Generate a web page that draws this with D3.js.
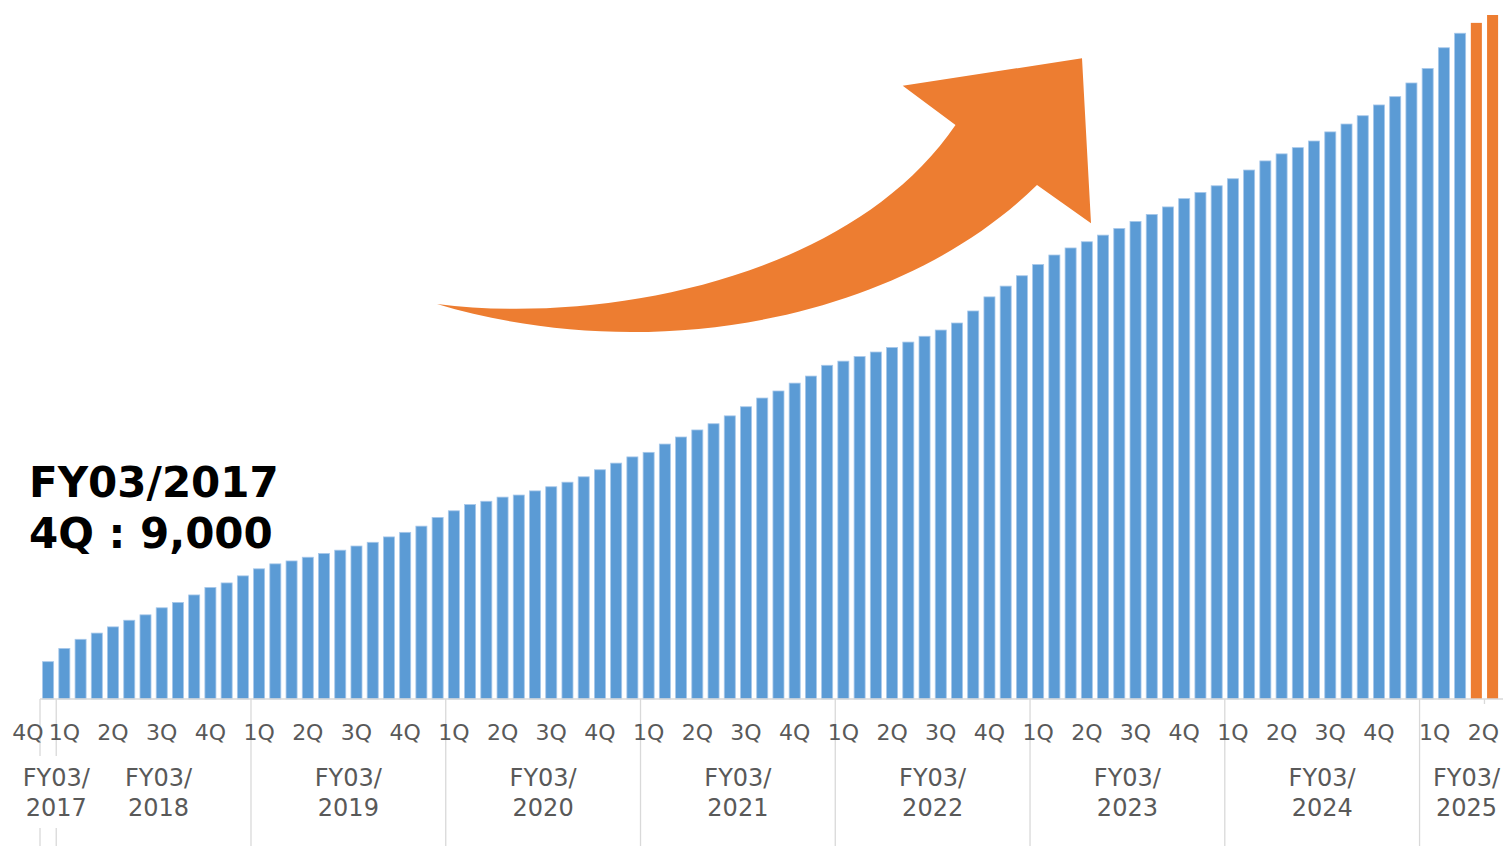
<!DOCTYPE html>
<html>
<head>
<meta charset="utf-8">
<script src="https://d3js.org/d3.v7.min.js"></script>
<style>
  body { margin: 0; background: #fff; }
  text { font-family: "DejaVu Sans", Verdana, sans-serif; }
  .qlabel { font-size: 22px; fill: #595959; }
  .ylabel { font-size: 24px; fill: #595959; }
  .note { font-size: 42px; font-weight: bold; fill: #000; }
</style>
</head>
<body>
<div id="chart"></div>
<script>
// monthly values, FY03/2017 4Q (Mar 2017) to FY03/2025 2Q
const values = [
  9000, 12200, 14400, 15900, 17400, 19000, 20300, 22000, 23300, 25100,
  26900, 28000, 29700, 31400, 32600, 33300, 34200, 35100, 35900, 36900,
  37800, 39100, 40200, 41700, 43800, 45400, 46900, 47700, 48700, 49200,
  50200, 51200, 52300, 53600, 55300, 56900, 58400, 59500, 61500, 63200,
  64900, 66400, 68300, 70500, 72600, 74300, 76200, 77900, 80500, 81500,
  82600, 83700, 84800, 86100, 87500, 89000, 90700, 93600, 97000, 99600,
  102100, 104800, 107100, 108800, 110300, 111900, 113500, 115200, 116900, 118700,
  120700, 122200, 123800, 125500, 127600, 129800, 131500, 133000, 134600, 136800,
  138700, 140700, 143300, 145300, 148600, 152100, 157100, 160600, 163100, 165000
];
// last months drawn in orange
const highlightFrom = 88;

// fiscal years and how many months of each are shown
const fyLabels = ["2017", "2018", "2019", "2020", "2021", "2022", "2023", "2024", "2025"];
const fyMonths = [1, 12, 12, 12, 12, 12, 12, 12, 5];

// quarter labels under the bars (first one is FY03/2017 4Q)
const quarterLabels = ["4Q",
  "1Q", "2Q", "3Q", "4Q", "1Q", "2Q", "3Q", "4Q", "1Q", "2Q", "3Q", "4Q",
  "1Q", "2Q", "3Q", "4Q", "1Q", "2Q", "3Q", "4Q", "1Q", "2Q", "3Q", "4Q",
  "1Q", "2Q", "3Q", "4Q", "1Q", "2Q"];

const noteLines = ["FY03/2017", "4Q : 9,000"];

const width = 1503, height = 846;
const baseY = 699;

const svg = d3.select("#chart")
  .append("svg")
    .attr("width", width)
    .attr("height", height);

// scales
const x = d3.scaleBand()
  .domain(d3.range(values.length))
  .range([40, 1500.7])
  .paddingInner(0.32)
  .paddingOuter(0.16);
const y = d3.scaleLinear()
  .domain([0, 165000])
  .range([baseY, 15]);

const gap = x.step() * x.paddingInner() / 2;
const boundary = i => x(i) - gap;

// fiscal year start index
const fyStart = [];
let acc = 0;
fyMonths.forEach(n => { fyStart.push(acc); acc += n; });

// arrow
svg.append("path")
  .attr("d", "M437,304 C600,325 850,280 955.5,125 L902.7,85.7 L1082,58.3 L1091,223.3 L1037,185 C900,320 650,368 437,304 Z")
  .attr("fill", "#ED7D31");

// bars
svg.append("g")
  .selectAll("rect")
  .data(values)
  .join("rect")
    .attr("x", (d, i) => x(i))
    .attr("y", d => y(d))
    .attr("width", x.bandwidth())
    .attr("height", d => baseY - y(d))
    .attr("fill", (d, i) => i >= highlightFrom ? "#ED7D31" : "#5B9BD5")
    .attr("stroke", (d, i) => i >= highlightFrom ? "none" : "#a7c8ea")
    .attr("stroke-width", 0.8);

// year separator lines
const sepX = [40].concat(fyStart.slice(1).map(i => boundary(i)));
svg.append("g")
  .selectAll("line")
  .data(sepX)
  .join("line")
    .attr("x1", d => d).attr("x2", d => d)
    .attr("y1", baseY).attr("y2", height)
    .attr("stroke", "#d9d9d9")
    .attr("stroke-width", 1.3);

// small tick inside last year
svg.append("line")
  .attr("x1", boundary(89)).attr("x2", boundary(89))
  .attr("y1", baseY).attr("y2", baseY + 5)
  .attr("stroke", "#d9d9d9")
  .attr("stroke-width", 1.3);

// axis line
svg.append("line")
  .attr("x1", 40).attr("x2", width)
  .attr("y1", baseY).attr("y2", baseY)
  .attr("stroke", "#d9d9d9")
  .attr("stroke-width", 1.5);

// quarter labels, placed at first month of each quarter
svg.append("g")
  .selectAll("text")
  .data(quarterLabels)
  .join("text")
    .attr("class", "qlabel")
    .attr("x", (d, i) => i === 0 ? x(0) + 1 : x(1 + (i - 1) * 3) + x.bandwidth() / 2 + (i >= 29 ? 7 : 0))
    .attr("y", 740)
    .attr("text-anchor", (d, i) => i === 0 ? "end" : "middle")
    .text(d => d);

// fiscal year labels with white backing
const yearG = svg.append("g");
fyLabels.forEach((label, k) => {
  const s = fyStart[k], n = fyMonths[k];
  let cx = (boundary(s) + boundary(s + n)) / 2;
  if (k === 0) cx = boundary(1);
  if (k === 1) cx += 5;
  if (k === fyLabels.length - 1) cx = boundary(s) + 47;
  const g = yearG.append("g");
  const t = g.append("text")
    .attr("class", "ylabel")
    .attr("text-anchor", "middle");
  t.append("tspan").attr("x", cx).attr("y", 786).text("FY03/");
  t.append("tspan").attr("x", cx).attr("y", 816).text(label);
  const b = t.node().getBBox();
  g.insert("rect", "text")
    .attr("x", b.x - 4).attr("y", b.y - 8)
    .attr("width", b.width + 8).attr("height", b.height + 14)
    .attr("fill", "#fff");
});

// annotation
svg.append("g")
  .selectAll("text")
  .data(noteLines)
  .join("text")
    .attr("class", "note")
    .attr("x", 29)
    .attr("y", (d, i) => 497 + i * 50.5)
    .text(d => d);
</script>
</body>
</html>
